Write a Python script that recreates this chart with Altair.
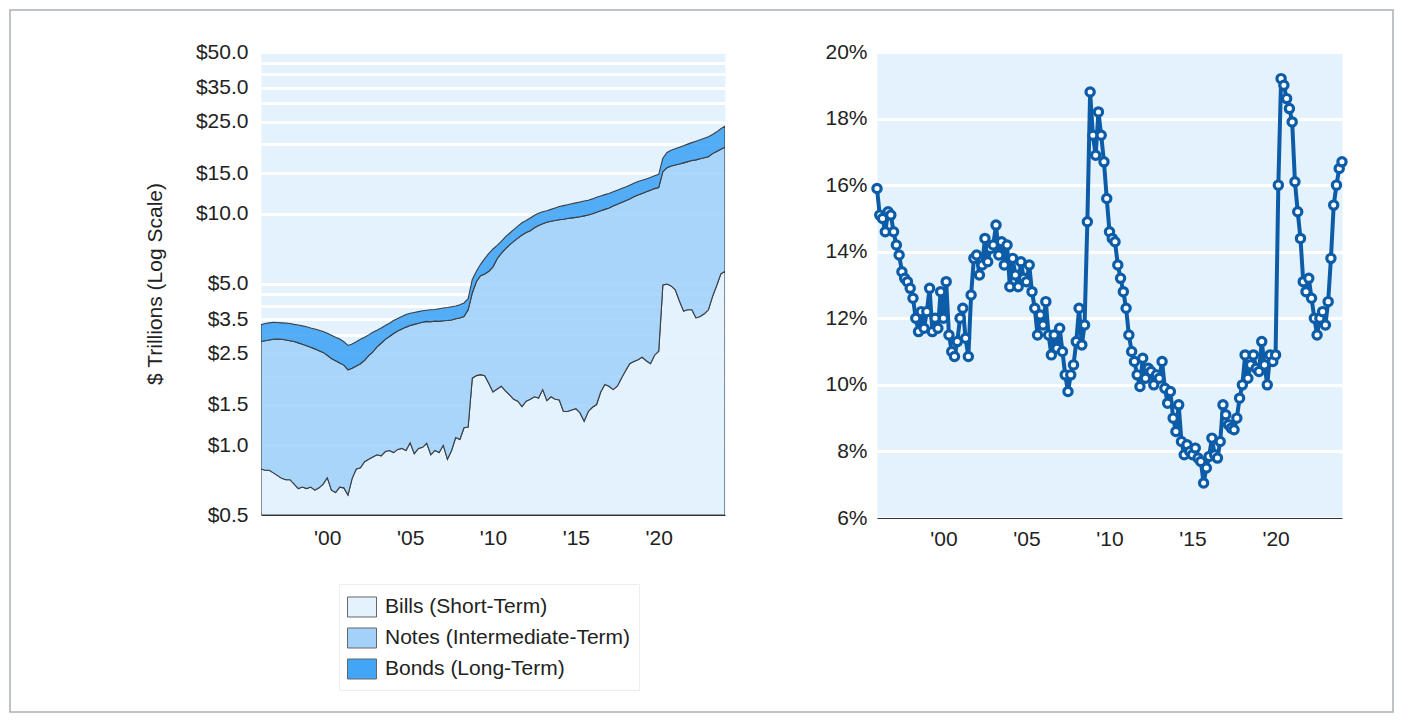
import altair as alt
import pandas as pd

# ---------------- data ----------------
# quarterly time stamps (left panel) and bi-monthly time stamps (right panel)
quarter_times = [1996 + i / 4 for i in range(113)]
bimonth_times = [1996 + i / 6 for i in range(169)]

series_names = ["Bills (Short-Term)", "Notes (Intermediate-Term)", "Bonds (Long-Term)"]
series_colors = ["#e3f2fd", "#a3d1fa", "#42a5f5"]

# cumulative tops of the stacked areas, $ trillions
bills_top = [
    0.79, 0.78, 0.78, 0.76,
    0.74, 0.72, 0.71, 0.71,
    0.68, 0.65, 0.66, 0.65,
    0.66, 0.64, 0.655, 0.68,
    0.725, 0.64, 0.625, 0.66,
    0.655, 0.61, 0.72, 0.79,
    0.80, 0.85, 0.87, 0.89,
    0.91, 0.90, 0.94, 0.95,
    0.93, 0.96, 0.97, 0.95,
    1.025, 0.92, 0.97, 0.98,
    1.02, 0.91, 0.95, 0.93,
    1.0, 0.87, 0.95, 1.08,
    1.06, 1.19, 1.20, 1.95,
    2.0, 2.02, 2.0, 1.85,
    1.70, 1.75, 1.80, 1.72,
    1.65, 1.58, 1.55, 1.47,
    1.55, 1.58, 1.62, 1.60,
    1.74, 1.56, 1.62, 1.58,
    1.57, 1.40, 1.40, 1.42,
    1.44, 1.38, 1.27, 1.40,
    1.46, 1.50, 1.70, 1.83,
    1.80, 1.74, 1.80, 1.95,
    2.10, 2.25, 2.30, 2.34,
    2.40, 2.32, 2.25, 2.45,
    2.55, 4.93, 4.97, 4.88,
    4.70, 4.20, 3.80, 3.85,
    3.85, 3.55, 3.60, 3.70,
    3.85, 4.40, 4.90, 5.50,
    5.65,
]

notes_top = [
    2.81, 2.83, 2.85, 2.87,
    2.88, 2.87, 2.85, 2.83,
    2.81, 2.77, 2.73, 2.69,
    2.65, 2.61, 2.56, 2.52,
    2.45, 2.37, 2.32, 2.27,
    2.22, 2.12, 2.15, 2.20,
    2.25, 2.33, 2.44, 2.53,
    2.66, 2.76, 2.87, 2.95,
    3.04, 3.12, 3.18, 3.24,
    3.29, 3.33, 3.37, 3.40,
    3.43, 3.42, 3.44, 3.43,
    3.45, 3.46, 3.48, 3.52,
    3.55, 3.60, 3.85, 4.55,
    5.10, 5.40, 5.50, 5.65,
    5.90, 6.40, 6.75, 7.05,
    7.34, 7.60, 7.85, 8.10,
    8.30, 8.45, 8.70, 8.90,
    9.05, 9.20, 9.28, 9.36,
    9.42, 9.48, 9.55, 9.60,
    9.65, 9.72, 9.80, 9.88,
    10.0, 10.15, 10.3, 10.45,
    10.6, 10.8, 11.0, 11.2,
    11.4, 11.6, 11.85, 12.05,
    12.25, 12.45, 12.65, 12.85,
    13.0, 15.2, 15.8, 16.1,
    16.25, 16.4, 16.6, 16.8,
    17.0, 17.1, 17.3, 17.45,
    17.65, 18.2, 18.6, 19.0,
    19.4,
]

total_top = [
    3.32, 3.36, 3.38, 3.40,
    3.39, 3.38, 3.37, 3.36,
    3.33, 3.31, 3.28, 3.25,
    3.21, 3.18, 3.14, 3.10,
    3.05, 2.99, 2.93, 2.88,
    2.80, 2.70, 2.74, 2.80,
    2.87, 2.93, 3.00, 3.08,
    3.14, 3.21, 3.29, 3.37,
    3.46, 3.53, 3.60, 3.67,
    3.72, 3.75, 3.78, 3.81,
    3.83, 3.85, 3.86, 3.89,
    3.92, 3.94, 3.97, 4.00,
    4.05, 4.12, 4.30, 5.20,
    5.65, 6.05, 6.40, 6.75,
    7.05, 7.30, 7.60, 7.95,
    8.24, 8.55, 8.85, 9.15,
    9.35, 9.60, 9.85, 10.05,
    10.2, 10.3, 10.45, 10.6,
    10.75, 10.85, 10.95, 11.05,
    11.15, 11.25, 11.35, 11.45,
    11.6, 11.8, 11.95, 12.1,
    12.25, 12.45, 12.65, 12.85,
    13.05, 13.3, 13.55, 13.8,
    13.95, 14.15, 14.35, 14.6,
    14.8, 17.4, 18.4, 18.8,
    19.1, 19.4, 19.7, 20.0,
    20.3, 20.6, 20.9, 21.2,
    21.5, 22.0, 22.6, 23.3,
    23.9,
]

# bills share (%), right panel
bills_share = [
    15.9, 15.1, 15.0, 14.6, 15.2, 15.1,
    14.6, 14.2, 13.9, 13.4, 13.2, 13.1,
    12.9, 12.6, 12.0, 11.6, 12.2, 11.7,
    12.2, 12.9, 11.6, 12.0, 11.7, 12.8,
    12.0, 13.1, 11.5, 11.0, 10.85, 11.3,
    12.0, 12.3, 11.4, 10.85, 12.7, 13.8,
    13.9, 13.3, 13.6, 14.4, 13.7, 14.1,
    14.2, 14.8, 13.9, 14.3, 13.6, 14.2,
    12.95, 13.8, 13.3, 12.95, 13.7, 13.2,
    13.1, 13.6, 12.8, 12.3, 11.5, 12.1,
    11.8, 12.5, 11.5, 10.9, 11.5, 11.1,
    11.7, 11.0, 10.3, 9.8, 10.3, 10.6,
    11.3, 12.3, 11.2, 11.8, 14.9, 18.8,
    17.5, 16.9, 18.2, 17.5, 16.7, 15.6,
    14.6, 14.4, 14.3, 13.6, 13.2, 12.8,
    12.3, 11.5, 11.0, 10.7, 10.3, 9.95,
    10.8, 10.2, 10.5, 10.4, 10.0, 10.3,
    10.2, 10.7, 9.9, 9.45, 9.8, 9.0,
    8.6, 9.4, 8.3, 7.9, 8.2, 8.0,
    7.9, 8.1, 7.8, 7.7, 7.05, 7.5,
    7.85, 8.4, 7.9, 7.8, 8.3, 9.4,
    9.1, 8.8, 8.7, 8.65, 9.0, 9.6,
    10.0, 10.9, 10.2, 10.6, 10.9, 10.5,
    10.4, 11.3, 10.6, 10.0, 10.9, 10.7,
    10.9, 16.0, 19.2, 19.0, 18.6, 18.3,
    17.9, 16.1, 15.2, 14.4, 13.1, 12.8,
    13.2, 12.6, 12.0, 11.5, 12.0, 12.2,
    11.8, 12.5, 13.8, 15.4, 16.0, 16.5,
    16.7,
]

year_ticks = [2000, 2005, 2010, 2015, 2020]
left_grid_values = [0.5, 1, 1.5, 2, 2.5, 3, 3.5, 4, 4.5, 5, 10, 15, 20, 25, 30, 35, 40, 45, 50]
left_label_values = [0.5, 1, 1.5, 2.5, 3.5, 5, 10, 15, 25, 35, 50]
right_values = [6, 8, 10, 12, 14, 16, 18, 20]

# ---------------- build tables ----------------
rows = []
for i, t in enumerate(quarter_times):
    rows.append({"t": t, "series": series_names[0], "lo": 0.5, "hi": bills_top[i]})
    rows.append({"t": t, "series": series_names[1], "lo": bills_top[i], "hi": notes_top[i]})
    rows.append({"t": t, "series": series_names[2], "lo": notes_top[i], "hi": total_top[i]})
df_left = pd.DataFrame(rows)
df_right = pd.DataFrame({"t": bimonth_times, "pct": bills_share})

FONT = "Liberation Sans"
TXT = "#222222"
year_label_expr = "\"'\" + substring(toString(datum.value), 2)"


def x_enc(pad):
    return alt.X(
        "t:Q",
        scale=alt.Scale(domain=[1996, 2024], nice=False, zero=False),
        axis=alt.Axis(
            values=year_ticks, labelExpr=year_label_expr, title=None, grid=False,
            ticks=False, domain=True, domainColor="#333333", domainWidth=1,
            labelFontSize=21, labelColor=TXT, labelPadding=pad, labelFont=FONT,
        ),
    )


label_list = "[" + ",".join(str(v) for v in left_label_values) + "]"
areas = alt.Chart(df_left).mark_area(
    stroke="#3a3f46", strokeWidth=1.1, fillOpacity=0.9, clip=True
).encode(
    x=x_enc(12),
    y=alt.Y(
        "hi:Q",
        scale=alt.Scale(type="log", domain=[0.5, 50], nice=False),
        axis=alt.Axis(
            values=left_grid_values,
            labelExpr="indexof(" + label_list + ", datum.value) >= 0 ? '$' + format(datum.value, '.1f') : ''",
            labelOverlap=False, title="$ Trillions (Log Scale)", titleFontSize=21,
            titleFontWeight="normal", titleColor=TXT, titlePadding=30, titleFont=FONT,
            grid=True, gridColor="white", gridWidth=3, domain=False, ticks=False,
            labelFontSize=21, labelColor=TXT, labelPadding=13, labelFont=FONT,
        ),
    ),
    y2="lo:Q",
    color=alt.Color(
        "series:N",
        scale=alt.Scale(domain=series_names, range=series_colors),
        legend=alt.Legend(
            title=None, orient="none", legendX=78, legendY=532, direction="vertical",
            symbolType="M-1,-0.69L1,-0.69L1,0.69L-1,0.69Z", symbolSize=841,
            symbolStrokeColor="#666666", symbolStrokeWidth=1, symbolOpacity=1,
            labelFontSize=21, labelColor=TXT, labelFont=FONT, labelOffset=8,
            rowPadding=3, padding=8, strokeColor="#eeeeee", fillColor="white",
            labelLimit=400,
        ),
    ),
)

frame = alt.Chart(pd.DataFrame({"k": [0]})).mark_rect(
    fillOpacity=0, stroke="#a8b0b5", strokeWidth=1.5, clip=False
).encode(
    x=alt.value(-251), x2=alt.value(1132), y=alt.value(-42), y2=alt.value(660)
)

left = alt.layer(areas, frame).properties(width=464, height=463)

base_r = alt.Chart(df_right).encode(
    x=x_enc(10),
    y=alt.Y(
        "pct:Q",
        scale=alt.Scale(domain=[6, 20], nice=False, zero=False),
        axis=alt.Axis(
            values=right_values, labelExpr="datum.value + '%'", title=None,
            grid=True, gridColor="white", gridWidth=3, domain=False, ticks=False,
            labelFontSize=21, labelColor=TXT, labelPadding=10, labelFont=FONT,
        ),
    ),
)
line = base_r.mark_line(color="#0d5ca8", strokeWidth=4)
pts = base_r.mark_point(
    shape="circle", filled=True, fill="white", stroke="#0d5ca8",
    strokeWidth=3.2, size=68, opacity=1,
)
right = alt.layer(line, pts).properties(width=465, height=466)

chart = alt.hconcat(left, right, spacing=152, bounds="flush").properties(
    padding=0, background="white"
).configure(
    font=FONT,
    view=alt.ViewConfig(fill="#e3f2fd", stroke="transparent"),
)

chart.save("out.html", embed_options={"renderer": "svg", "actions": False})
